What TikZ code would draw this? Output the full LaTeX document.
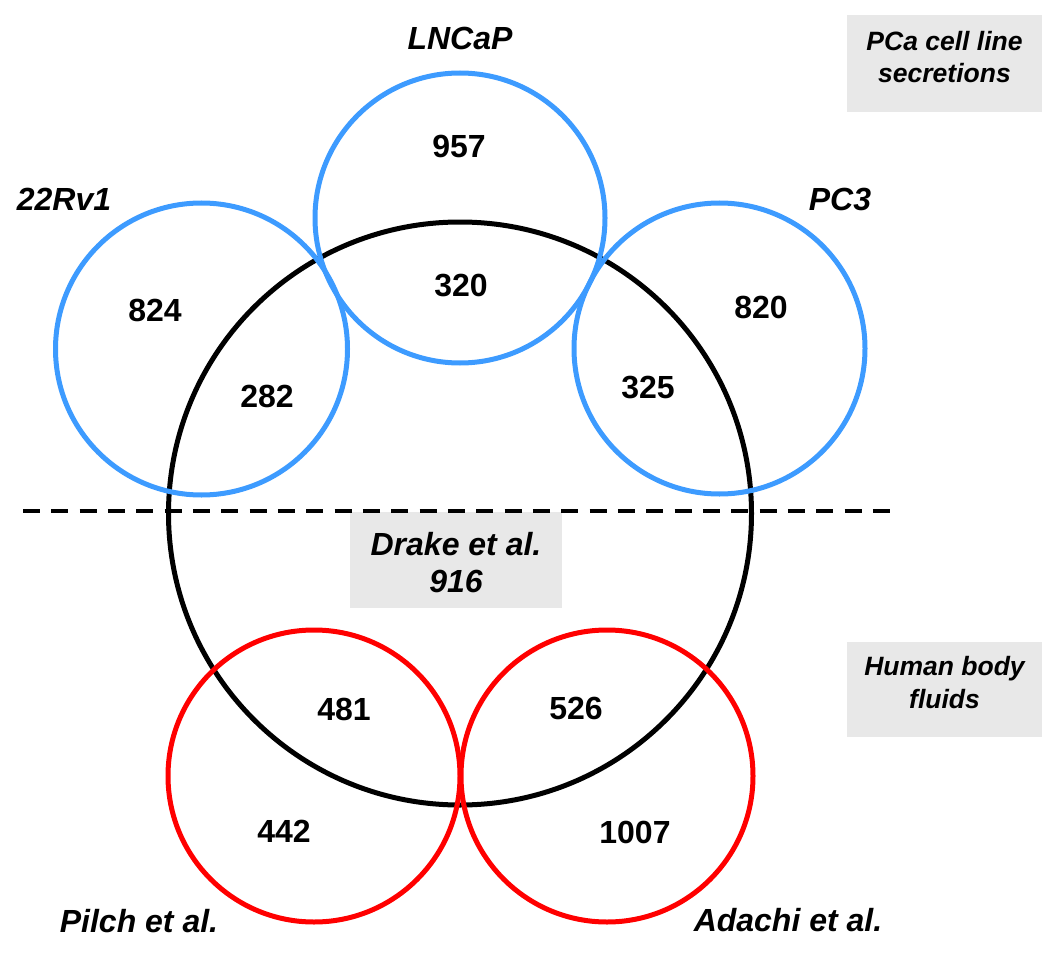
\documentclass[tikz,border=0pt]{standalone}
\usepackage{fontspec}
\setmainfont{Liberation Sans}
\definecolor{cblue}{RGB}{61,155,255}
\definecolor{cred}{RGB}{255,0,0}
\definecolor{cgray}{RGB}{232,232,232}
\begin{document}
\begin{tikzpicture}[x=1pt,y=-1pt,
  num/.style={inner sep=0pt,anchor=base,font=\fontsize{32}{37}\selectfont\bfseries},
  lbl/.style={inner sep=0pt,anchor=base,font=\fontsize{32}{37}\selectfont\bfseries\itshape},
  boxtxt/.style={inner sep=0pt,align=center,font=\fontsize{26.5}{32.5}\selectfont\bfseries\itshape},
  bluering/.style={draw=cblue,line width=5pt},
  redring/.style={draw=cred,line width=5pt},
  blackring/.style={draw=black,line width=5pt}]
\useasboundingbox (0,0) rectangle (1050,955);
% gray boxes
\fill[cgray] (847,15) rectangle (1042,112);
\fill[cgray] (350,512) rectangle (562,608);
\fill[cgray] (847,642) rectangle (1042,737);
% centres
\coordinate (cBlack) at (460,513.5);
\coordinate (cLN) at (460,218);
\coordinate (cRv) at (201.5,349);
\coordinate (cPC) at (719.5,348.5);
\coordinate (cPi) at (314,776);
\coordinate (cAd) at (607,776);
% dashed separator
\coordinate (dL) at (23,511);
\coordinate (dR) at (890,511);
\draw[line width=4pt,dash pattern=on 17pt off 11.33pt] (dL) -- (dR);
% circles
\draw[blackring] (cBlack) circle (291.5);
\draw[redring] (cPi) circle (146);
\draw[redring] (cAd) circle (146);
\draw[bluering] (cLN) circle (145);
\draw[bluering] (cRv) circle (146);
\draw[bluering] (cPC) circle (145.5);
% labels
\node[lbl] (tLN) at (460,50) {LNCaP};
\node[lbl] (tRv) at (64,210) {22Rv1};
\node[lbl] (tPC) at (840,211) {PC3};
\node[lbl] (tPi) at (139,932) {Pilch et al.};
\node[lbl] (tAd) at (788,931) {Adachi et al.};
% numbers
\node[num] (n957) at (459,158) {957};
\node[num] (n320) at (461,296) {320};
\node[num] (n824) at (155,321) {824};
\node[num] (n282) at (267,407) {282};
\node[num] (n820) at (761,318) {820};
\node[num] (n325) at (648,398) {325};
\node[num] (n481) at (344,720) {481};
\node[num] (n442) at (284,842) {442};
\node[num] (n526) at (576,719) {526};
\node[num] (n1007) at (635,843) {1007};
% box texts (base anchor = last line's baseline)
\node[boxtxt,anchor=base] (bPCa) at (944.5,83) {PCa cell line\\secretions};
\node[boxtxt,anchor=base] (bHum) at (944.5,708) {Human body\\fluids};
\node[lbl,align=center,font=\fontsize{32}{36.7}\selectfont\bfseries\itshape] (bDr) at (456,592) {Drake et al.\\916};
\end{tikzpicture}
\end{document}
